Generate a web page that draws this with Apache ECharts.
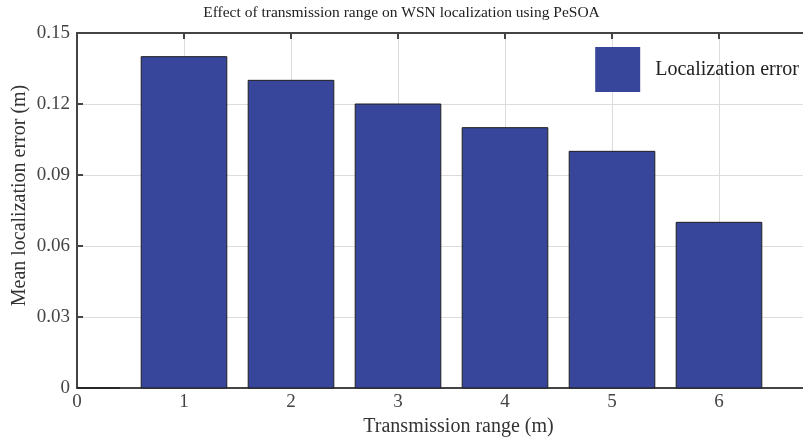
<!DOCTYPE html>
<html>
<head>
<meta charset="utf-8">
<script src="https://cdn.jsdelivr.net/npm/echarts@6/dist/echarts.min.js"></script>
<style>
  html, body { margin: 0; padding: 0; background: #fff; }
  #chart { width: 803px; height: 438px; }
</style>
</head>
<body>
<div id="chart"></div>
<script>
// bar positions (transmission range, m) and mean error values
const ranges = [0, 1, 2, 3, 4, 5, 6];
const meanErrors = [0, 0.14, 0.13, 0.12, 0.11, 0.10, 0.07];
const seriesName = 'Localization error';
const titleText = 'Effect of transmission range on WSN localization using PeSOA';

const font = 'Liberation Serif';
const axisColor = '#444';
const barColor = '#37469a';
const barHalf = 0.4; // bar width 0.8 in axis units

const chart = echarts.init(document.getElementById('chart'));

function fmtY(v) {
  return v === 0 ? '0' : v.toFixed(2);
}

// bars drawn as clipped rects so the half bar at x=0 stays inside the box
function renderBar(params, api) {
  const x = api.value(0);
  const y = api.value(1);
  const p0 = api.coord([x - barHalf, 0]);
  const p1 = api.coord([x + barHalf, y]);
  const shape = echarts.graphic.clipRectByRect(
    { x: p0[0], y: p1[1], width: p1[0] - p0[0], height: p0[1] - p1[1] },
    {
      x: params.coordSys.x,
      y: params.coordSys.y,
      width: params.coordSys.width,
      height: params.coordSys.height
    }
  );
  if (!shape) return;
  return {
    type: 'rect',
    shape: shape,
    style: { fill: barColor, stroke: '#1e1e1e', lineWidth: 1 }
  };
}

chart.setOption({
  animation: false,
  backgroundColor: '#fff',
  textStyle: { fontFamily: font },
  title: {
    text: titleText,
    left: 'center',
    top: 0,
    textStyle: { fontFamily: font, fontSize: 15.5, fontWeight: 'normal', color: '#222' }
  },
  legend: {
    data: [seriesName],
    right: -1,
    top: 42,
    itemWidth: 45,
    itemHeight: 45,
    itemGap: 10,
    icon: 'rect',
    itemStyle: { color: barColor, borderWidth: 0 },
    textStyle: { fontFamily: font, fontSize: 20, color: '#222', padding: [0, 0, 0, 10] }
  },
  grid: { left: 77, right: -23, top: 33, bottom: 50, outerBoundsMode: 'none' },
  xAxis: [
    {
      type: 'value',
      min: 0, max: 7, interval: 1,
      name: 'Transmission range (m)',
      nameLocation: 'middle',
      nameGap: 22,
      nameTextStyle: { fontFamily: font, fontSize: 20, color: '#333', padding: [0, 0, 0, 14] },
      axisLine: { onZero: false, lineStyle: { color: axisColor, width: 2 } },
      axisTick: { inside: true, length: 6, lineStyle: { color: axisColor, width: 2 } },
      axisLabel: {
        margin: 5, fontFamily: font, fontSize: 19, color: '#444',
        formatter: v => (v > 6 ? '' : String(v))
      },
      splitLine: { show: true, lineStyle: { color: '#dcdcdc', width: 1 } }
    },
    {
      type: 'value',
      position: 'top',
      min: 0, max: 7, interval: 1,
      axisLine: { onZero: false, lineStyle: { color: axisColor, width: 2 } },
      axisTick: { inside: true, length: 6, lineStyle: { color: axisColor, width: 2 } },
      axisLabel: { show: false },
      splitLine: { show: false }
    }
  ],
  yAxis: [
    {
      type: 'value',
      min: 0, max: 0.15, interval: 0.03,
      name: 'Mean localization error (m)',
      nameLocation: 'middle',
      nameGap: 47,
      nameMoveOverlap: false,
      nameTextStyle: { fontFamily: font, fontSize: 20, color: '#333', padding: [0, 0, 0, 30] },
      axisLine: { show: true, onZero: false, lineStyle: { color: axisColor, width: 2 } },
      axisTick: { show: true, inside: true, length: 6, lineStyle: { color: axisColor, width: 2 } },
      axisLabel: { margin: 7, fontFamily: font, fontSize: 19, color: '#444', formatter: fmtY },
      splitLine: { show: true, lineStyle: { color: '#dcdcdc', width: 1 } }
    },
    {
      type: 'value',
      position: 'right',
      min: 0, max: 0.15, interval: 0.03,
      axisLine: { show: true, onZero: false, lineStyle: { color: axisColor, width: 2 } },
      axisTick: { show: true, inside: true, length: 6, lineStyle: { color: axisColor, width: 2 } },
      axisLabel: { show: false },
      splitLine: { show: false }
    }
  ],
  series: [
    {
      name: seriesName,
      type: 'custom',
      xAxisIndex: 0,
      yAxisIndex: 0,
      itemStyle: { color: barColor },
      renderItem: renderBar,
      encode: { x: 0, y: 1 },
      data: ranges.map((r, i) => [r, meanErrors[i]])
    }
  ]
});
</script>
</body>
</html>
